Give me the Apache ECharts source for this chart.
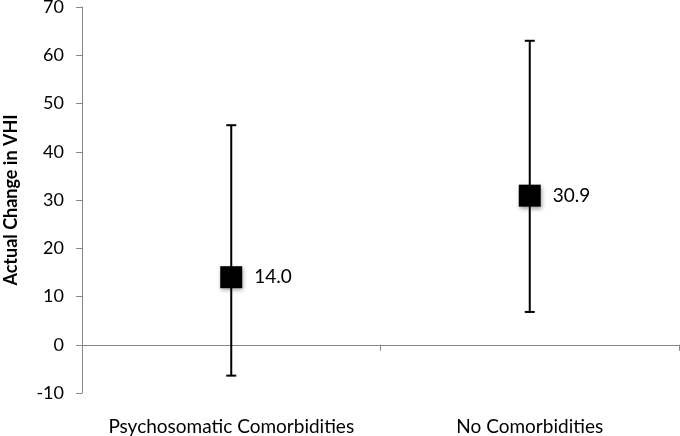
<!DOCTYPE html>
<html><head><meta charset="utf-8">
<script src="https://cdn.jsdelivr.net/npm/echarts@6/dist/echarts.min.js"></script>
<style>html,body{margin:0;padding:0;background:#fff}#c{width:680px;height:436px}</style>
</head><body><div id="c"></div>
<script>
var categories = ['Psychosomatic Comorbidities', 'No Comorbidities'];
var means = [14.0, 30.9];
var lowerBounds = [-6.4, 6.8];
var upperBounds = [45.5, 63.0];
var yTicks = [-10, 0, 10, 20, 30, 40, 50, 60, 70];

var FONT = 'Lato';
var chart = echarts.init(document.getElementById('c'));
var errData = categories.map(function (c, i) { return [i, lowerBounds[i], upperBounds[i]]; });
var meanData = categories.map(function (c, i) { return [i, means[i]]; });

chart.setOption({
  animation: false,
  grid: { left: 82, right: 1, top: 7, bottom: 43, containLabel: false, outerBoundsMode: 'none' },
  xAxis: [
    {
      type: 'category', data: categories, position: 'bottom',
      axisLine: { show: false, onZero: false }, axisTick: { show: false },
      axisLabel: { color: '#000', fontFamily: FONT, fontSize: 19, margin: 24, interval: 0, hideOverlap: false }
    },
    {
      type: 'category', data: categories, position: 'bottom',
      axisLine: { show: true, onZero: true, onZeroAxisIndex: 0, lineStyle: { color: '#868686', width: 1 } },
      axisTick: { show: true, length: 6, lineStyle: { color: '#868686' } },
      axisLabel: { show: false }
    }
  ],
  yAxis: {
    type: 'value', min: yTicks[0], max: yTicks[yTicks.length - 1], interval: 10,
    name: 'Actual Change in VHI', nameLocation: 'middle', nameGap: 62, nameRotate: 90,
    nameTextStyle: { color: '#000', fontFamily: FONT, fontSize: 18, fontWeight: 'bold' },
    axisLine: { show: true, lineStyle: { color: '#868686' } },
    axisTick: { show: true, length: 6, lineStyle: { color: '#868686' } },
    splitLine: { show: false },
    axisLabel: { color: '#000', fontFamily: FONT, fontSize: 18, margin: 18 }
  },
  series: [
    {
      type: 'custom', xAxisIndex: 0,
      data: errData,
      renderItem: function (params, api) {
        var x = api.value(0);
        var lo = api.coord([x, api.value(1)]);
        var hi = api.coord([x, api.value(2)]);
        var hw = 5;
        var st = { stroke: '#000', lineWidth: 2 };
        return {
          type: 'group',
          children: [
            { type: 'line', shape: { x1: hi[0], y1: hi[1], x2: lo[0], y2: lo[1] }, style: st },
            { type: 'line', shape: { x1: hi[0] - hw, y1: hi[1], x2: hi[0] + hw, y2: hi[1] }, style: st },
            { type: 'line', shape: { x1: lo[0] - hw, y1: lo[1], x2: lo[0] + hw, y2: lo[1] }, style: st }
          ]
        };
      },
      z: 2
    },
    {
      type: 'scatter', xAxisIndex: 0,
      data: meanData,
      symbol: 'rect', symbolSize: 22,
      itemStyle: { color: '#000', opacity: 1, shadowColor: 'rgba(0,0,0,0.35)', shadowBlur: 4, shadowOffsetX: 1, shadowOffsetY: 2 },
      label: {
        show: true, position: 'right', distance: 12,
        color: '#000', fontFamily: FONT, fontSize: 19,
        formatter: function (p) { return p.value[1].toFixed(1); }
      },
      z: 3
    }
  ]
});
</script></body></html>
